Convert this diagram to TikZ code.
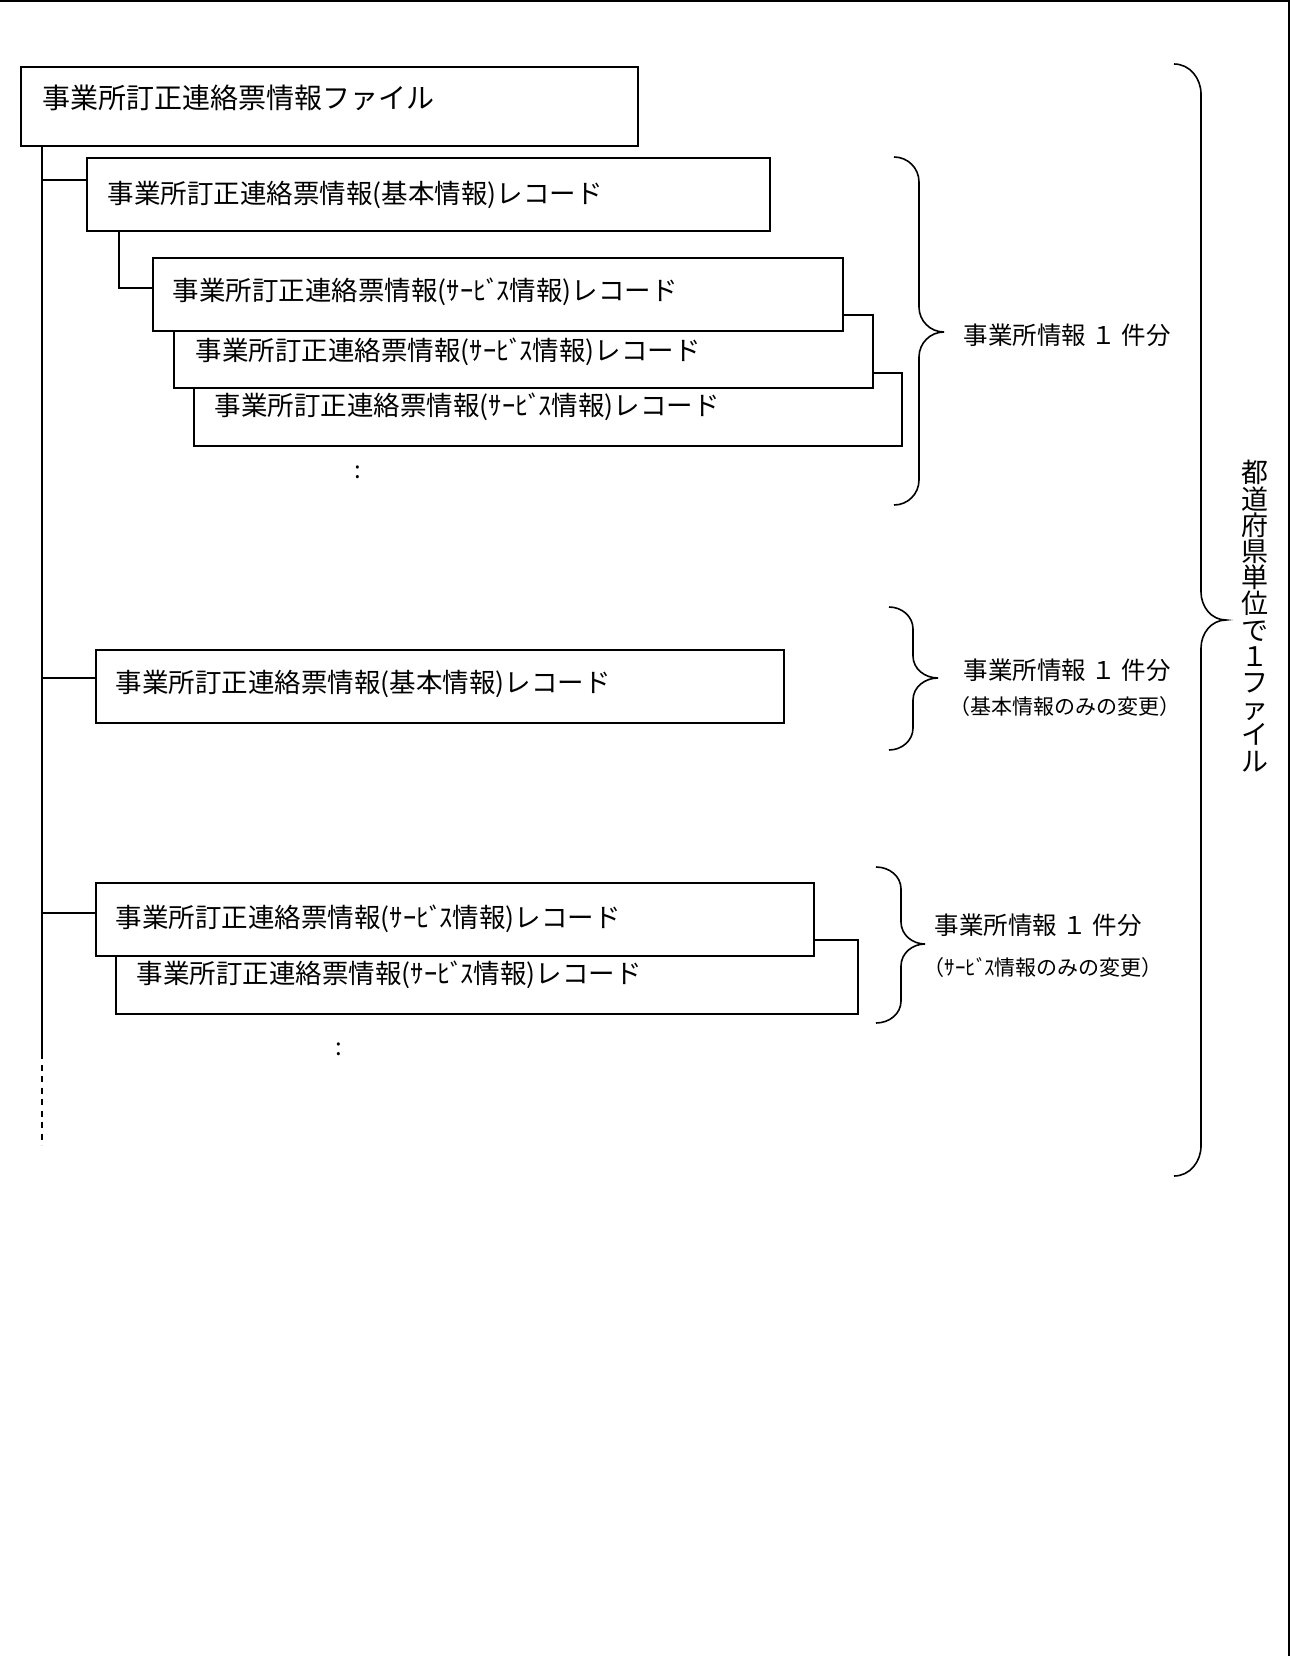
\documentclass[tikz,border=0pt]{standalone}
\usepackage{fontspec}
\setmainfont{Noto Sans CJK JP}
\newcommand{\svc}{ｻｰﾋﾞ\kern-0.12emｽ}
\begin{document}
\begin{tikzpicture}[x=1pt,y=-1pt,line width=1.6pt,
  box/.style={draw, fill=white, inner sep=0pt, anchor=north west},
  title/.style={anchor=west, inner sep=0pt, font=\fontsize{28}{32}\selectfont, text height=24.6pt, text depth=3.4pt},
  rec/.style={anchor=west, inner sep=0pt, font=\fontsize{26.5}{30}\selectfont, text height=23.3pt, text depth=3.2pt},
  lab/.style={anchor=west, inner sep=0pt, font=\fontsize{24.5}{28}\selectfont, text height=21.5pt, text depth=3pt},
  sublab/.style={anchor=west, inner sep=0pt, font=\fontsize{21}{24}\selectfont, text height=18.5pt, text depth=2.5pt},
  dots/.style={inner sep=0pt, font=\fontsize{24}{28}\selectfont},
  brace/.style={line width=1.6pt}]
\useasboundingbox (0,0) rectangle (1290,1656);
% frame (top and right only)
\draw[line width=2.5pt] (0,1.2) -- (1288.8,1.2) -- (1288.8,1656);

% file box
\node[box, minimum width=617pt, minimum height=79pt] (file) at (20,66) {};
\node[title] (filet) at (42,98) {事業所訂正連絡票情報ファイル};

% group 1
\node[box, minimum width=683pt, minimum height=73pt] (b1) at (86,157) {};
\node[rec] (b1t) at (107,193) {事業所訂正連絡票情報(基本情報)レコード};
\node[box, minimum width=708pt, minimum height=73pt] (s3) at (193,372) {};
\node[rec] (s3t) at (214,405) {事業所訂正連絡票情報(\svc 情報)レコード};
\node[box, minimum width=699pt, minimum height=73pt] (s2) at (173,314) {};
\node[rec] (s2t) at (195,350) {事業所訂正連絡票情報(\svc 情報)レコード};
\node[box, minimum width=690pt, minimum height=73pt] (s1) at (152,257) {};
\node[rec] (s1t) at (172,290) {事業所訂正連絡票情報(\svc 情報)レコード};
\node[dots] (d1) at (358,472) {:};

% group 2
\node[box, minimum width=688pt, minimum height=73pt] (b2) at (95,649) {};
\node[rec] (b2t) at (115,682) {事業所訂正連絡票情報(基本情報)レコード};

% group 3
\node[box, minimum width=742pt, minimum height=74pt] (sb) at (115,939) {};
\node[rec] (sbt) at (136,973) {事業所訂正連絡票情報(\svc 情報)レコード};
\node[box, minimum width=718pt, minimum height=73pt] (sa) at (95,882) {};
\node[rec] (sat) at (115,917) {事業所訂正連絡票情報(\svc 情報)レコード};
\node[dots] (d2) at (339,1049) {:};

% trunk and branches
\coordinate (ttop) at (42,145);
\coordinate (br1) at (42,180);
\coordinate (br2) at (42,678);
\coordinate (br3) at (42,913);
\coordinate (tsolid) at (42,1053);
\coordinate (tend) at (42,1145);
\draw (ttop) -- (tsolid);
\draw[dash pattern=on 6pt off 5.5pt] (tsolid) -- (tend);
\draw (br1) -- (br1 -| b1.west);
\draw (br2) -- (br2 -| b2.west);
\draw (br3) -- (br3 -| sa.west);
\coordinate (sub0) at (119,230);
\coordinate (sub1) at (119,288);
\draw (sub0) -- (sub1) -- (sub1 -| s1.west);

% braces
\draw[brace] (894,157) to[out=0,in=90] (919,182) -- (919,307) to[out=-90,in=180] (944,332) to[out=180,in=90] (919,357) -- (919,480) to[out=-90,in=0] (894,505);
\node[lab] (l1) at (963,335) {事業所情報 １ 件分};

\draw[brace] (889,607) to[out=0,in=90] (913,629) -- (913,656) to[out=-90,in=180] (938,678) to[out=180,in=90] (913,700) -- (913,728) to[out=-90,in=0] (889,750);
\node[lab] (l2) at (963,670) {事業所情報 １ 件分};
\node[sublab] (l2s) at (949,706) {（基本情報のみの変更）};

\draw[brace] (876,867) to[out=0,in=90] (901,889) -- (901,922) to[out=-90,in=180] (925,944) to[out=180,in=90] (901,966) -- (901,1001) to[out=-90,in=0] (876,1023);
\node[lab] (l3) at (934,925) {事業所情報 １ 件分};
\node[sublab] (l3s) at (923,967) {（\svc 情報のみの変更）};

\draw[brace] (1174,64) to[out=0,in=90] (1201,94) -- (1201,592) to[out=-90,in=180] (1226,620) to[out=180,in=90] (1201,648) -- (1201,1146) to[out=-90,in=0] (1174,1176);
\node[align=center, inner sep=0pt, font={\fontsize{27}{26.2}\selectfont\lineskiplimit=-50pt}] (vt) at (1255,616)
  {都\\道\\府\\県\\単\\位\\で\\１\\フ\\ァ\\イ\\ル};
\end{tikzpicture}
\end{document}
